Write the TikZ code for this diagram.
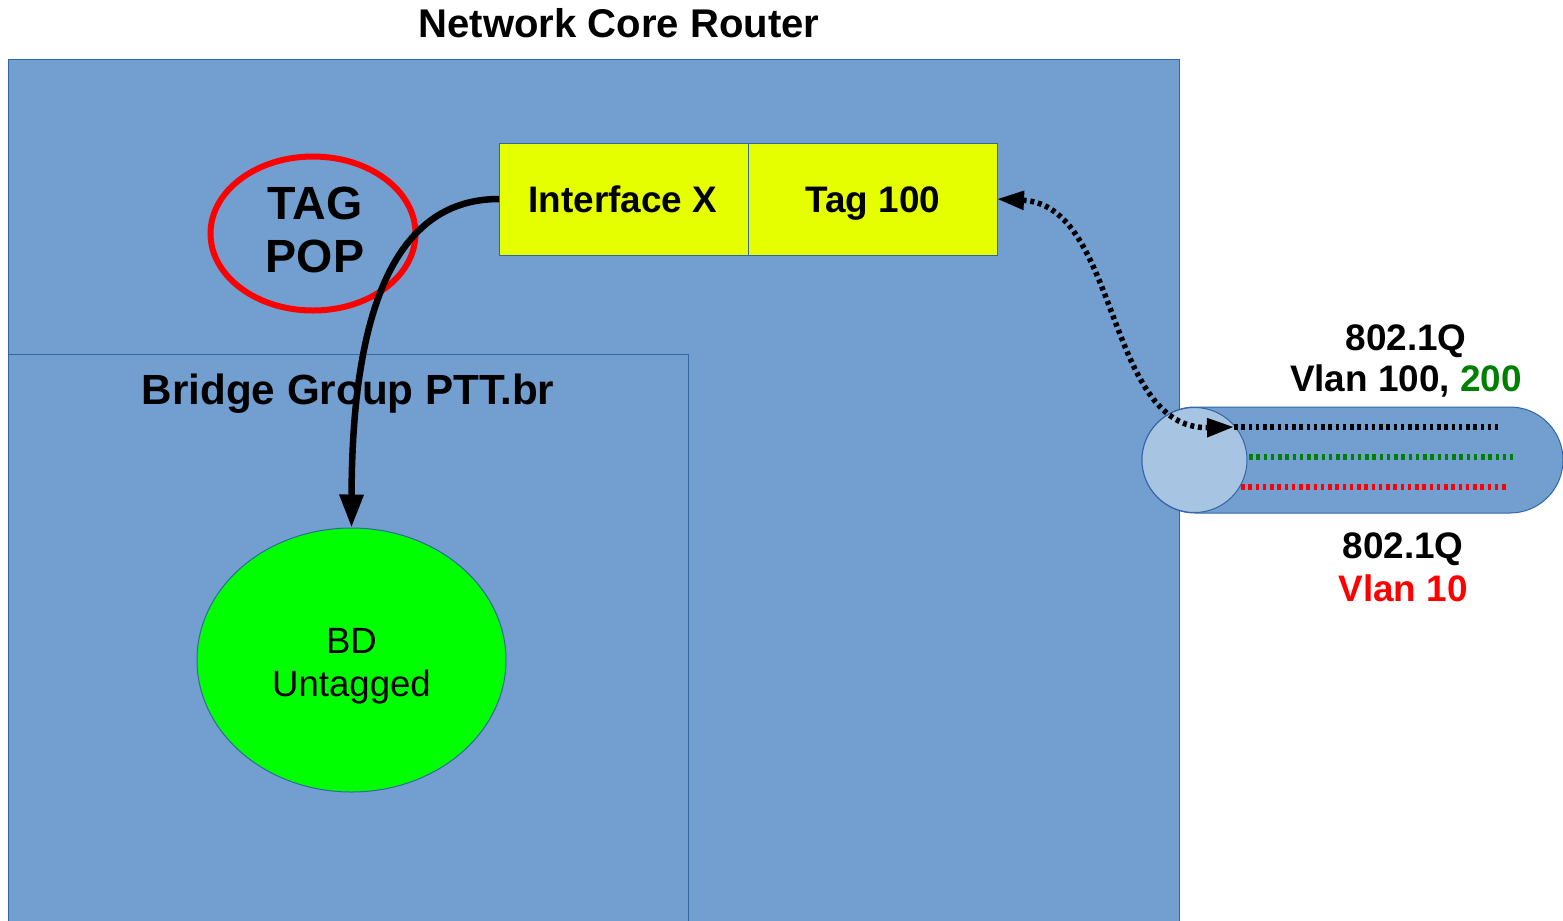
\documentclass[tikz,border=0pt]{standalone}
\usepackage{fontspec}
\setmainfont{Liberation Sans}
\usetikzlibrary{arrows.meta,shapes.geometric,shapes.misc}
\definecolor{routerblue}{HTML}{729FCF}
\definecolor{edgeblue}{HTML}{3465A4}
\definecolor{ifyellow}{HTML}{E6FF00}
\definecolor{bdgreen}{HTML}{00FF00}
\definecolor{portblue}{HTML}{A7C4E2}
\definecolor{vlangreen}{HTML}{008000}
\definecolor{vlanred}{HTML}{FF0000}
\begin{document}
\begin{tikzpicture}[x=0.2mm,y=-0.2mm,
  panel/.style={draw=edgeblue,fill=routerblue,line width=0.2mm,inner sep=0pt,outer sep=0pt,anchor=north west},
  ifbox/.style={draw=edgeblue,fill=ifyellow,line width=0.2mm,inner sep=0pt,outer sep=0pt,
    minimum width=49.8mm,minimum height=22.4mm,anchor=north west},
  label/.style={inner sep=0pt,anchor=base,font=\bfseries\fontsize{21}{25}\selectfont},
  heading/.style={inner sep=0pt,anchor=base,font=\bfseries\fontsize{22.8}{27}\selectfont},
  vlanline/.style={line width=1.2mm,dash pattern=on 0.7mm off 0.75mm},
  flow/.style={line width=1.3mm,-{Triangle[length=6.6mm,width=4.6mm]}},
  tagflow/.style={line width=1.1mm,dash pattern=on 0.8mm off 0.75mm,
    {Triangle[length=5.4mm,width=3.6mm]}-{Triangle[length=5.4mm,width=3.6mm]}}]
\useasboundingbox (0,0) rectangle (1563,920);
\clip (0,0) rectangle (1563,920);

% router chassis and bridge group
\node[panel,minimum width=234.2mm,minimum height=174mm] (router) at (8,59) {};
\node[panel,minimum width=136mm,minimum height=115mm] (bridge) at (8,354) {};

% titles
\node[heading] (title) at (619,37) {Network Core Router};
\node[heading,font=\bfseries\fontsize{24}{28}\selectfont] (brtitle) at (348,404) {Bridge Group PTT.br};

% trunk cable with its three VLANs
\node[rounded rectangle,draw=edgeblue,fill=routerblue,line width=0.2mm,inner sep=0pt,
  minimum width=84.2mm,minimum height=21.2mm] (cable) at (1352.5,460) {};
\node[circle,draw=edgeblue,fill=portblue,line width=0.2mm,inner sep=0pt,
  minimum size=21mm] (port) at (1194.5,460) {};
\coordinate (vlanA) at (1234,427);
\coordinate (vlanAend) at (1498,427);
\draw[vlanline,black] (vlanA) -- (vlanAend);
\draw[vlanline,vlangreen] (1249,457) -- (1513,457);
\draw[vlanline,vlanred] (1241,487) -- (1506,487);

% interface and tag boxes
\node[ifbox] (iface) at (499,143) {};
\node[ifbox] (tag) at (748,143) {};
\node[label] (ifacetxt) at (623,212) {Interface X};
\node[label] (tagtxt) at (873,212) {Tag 100};

% tag pop marker
\node[ellipse,draw=vlanred,line width=1.2mm,inner sep=0pt,
  minimum width=41mm,minimum height=30.8mm] (pop) at (313,233.5) {};
\node[label,align=center,font=\bfseries\fontsize{26.5}{30}\selectfont] (poptxt) at (315,272) {TAG\\POP};

% bridge domain
\node[ellipse,draw=edgeblue,fill=bdgreen,line width=0.2mm,inner sep=0pt,
  minimum width=61.8mm,minimum height=52.8mm] (bd) at (351.5,660) {};
\node[label,align=center,font=\fontsize{20.8}{24.4}\selectfont] (bdtxt) at (351.5,696) {BD\\Untagged};

% frame flows
\draw[flow] (iface.west) .. controls (400,199) and (352,300) .. (bd.north);
\draw[tagflow] (tag.east) .. controls (1120,205) and (1105,430) .. (vlanA);

% VLAN labels
\node[label] (q1) at (1406,350) {802.1Q};
\node[label] (v1) at (1406,391) {Vlan 100, \textcolor{vlangreen}{200}};
\node[label] (q2) at (1403,558) {802.1Q};
\node[label,text=vlanred] (v2) at (1403,601) {Vlan 10};
\end{tikzpicture}
\end{document}
